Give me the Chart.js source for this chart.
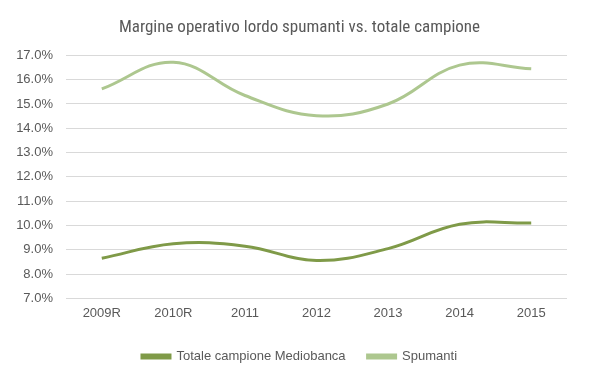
<!DOCTYPE html>
<html><head><meta charset="utf-8">
<script src="https://cdn.jsdelivr.net/npm/chart.js@4/dist/chart.umd.min.js"></script>
<style>html,body{margin:0;padding:0;background:#fff}#w{width:599px;height:378px}</style>
</head><body><div id="w"><canvas id="c"></canvas></div>
<script>
const categories = ['2009R','2010R','2011','2012','2013','2014','2015'];
const totaleCampione = [8.65, 9.25, 9.15, 8.56, 9.05, 10.05, 10.1];
const spumanti = [15.62, 16.72, 15.35, 14.52, 15.0, 16.6, 16.45];
const seriesNames = ['Totale campione Mediobanca', 'Spumanti'];
const titleText = 'Margine operativo lordo spumanti vs. totale campione';

const noClipLabels = {
  id: 'noClipLabels',
  afterLayout(chart) { const y = chart.scales.y; if (y) y._computeLabelArea = () => undefined; }
};

new Chart(document.getElementById('c'), {
  type: 'line',
  data: {
    labels: categories,
    datasets: [
      {label: seriesNames[0], data: totaleCampione, borderColor: '#7f9a48', backgroundColor: '#7f9a48', borderWidth: 3, pointRadius: 0, tension: 0.4, fill: false},
      {label: seriesNames[1], data: spumanti, borderColor: '#adc78f', backgroundColor: '#adc78f', borderWidth: 3, pointRadius: 0, tension: 0.4, fill: false}
    ]
  },
  plugins: [noClipLabels],
  options: {
    responsive: true, maintainAspectRatio: false, animation: false,
    layout: {padding: {left: 32, right: 32, top: 14, bottom: 5}},
    plugins: {
      title: {display: true, text: titleText, color: '#595959', font: {family: 'Liberation Sans Narrow, Arial Narrow, Roboto Condensed, Liberation Sans', size: 17, weight: 'normal'}, padding: {top: 4, bottom: 17}},
      legend: {position: 'bottom', labels: {color: '#595959', boxWidth: 28, boxHeight: 3, padding: 22, font: {family: 'Liberation Sans, Arial', size: 13}}},
      tooltip: {enabled: false}
    },
    scales: {
      x: {offset: true, grid: {display: false, drawTicks: false}, border: {display: false}, ticks: {color: '#595959', padding: 7, font: {family: 'Liberation Sans, Arial', size: 13}}},
      y: {min: 7, max: 17, border: {display: false}, grid: {color: '#d9d9d9', drawTicks: false}, afterFit: a => { a.width = 34; }, ticks: {stepSize: 1, color: '#595959', padding: 13, font: {family: 'Liberation Sans, Arial', size: 13}, callback: v => v.toFixed(1) + '%'}}
    }
  }
});
</script></body></html>
